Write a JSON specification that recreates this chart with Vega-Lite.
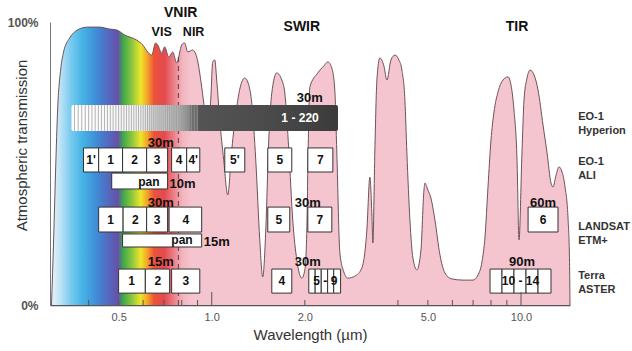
{
  "$schema": "https://vega.github.io/schema/vega-lite/v6.json",
  "width": 520,
  "height": 283,
  "autosize": {"type": "none"},
  "padding": {"left": 50, "top": 22, "right": 62, "bottom": 46},
  "background": "white",
  "config": {
    "view": {"stroke": null},
    "font": "Liberation Sans",
    "axis": {"grid": false, "labelFont": "Liberation Sans", "titleFont": "Liberation Sans"},
    "text": {"font": "Liberation Sans"}
  },
  "datasets": {
    "transmission": [
      {"wl": 0.3034, "t": 0}, {"wl": 0.3082, "t": 23}, {"wl": 0.3128, "t": 47.7}, {"wl": 0.3175, "t": 68.9},
      {"wl": 0.3246, "t": 83}, {"wl": 0.3319, "t": 89.4}, {"wl": 0.347, "t": 94.3}, {"wl": 0.3684, "t": 97.2},
      {"wl": 0.397, "t": 98.2}, {"wl": 0.434, "t": 98.2}, {"wl": 0.4676, "t": 97.5}, {"wl": 0.4928, "t": 97.2},
      {"wl": 0.523, "t": 95.4}, {"wl": 0.5721, "t": 93.6}, {"wl": 0.5979, "t": 91.9}, {"wl": 0.6208, "t": 89.4},
      {"wl": 0.6395, "t": 88.3}, {"wl": 0.6589, "t": 92.6}, {"wl": 0.6688, "t": 91.9}, {"wl": 0.6891, "t": 89},
      {"wl": 0.7046, "t": 91.2}, {"wl": 0.726, "t": 87.6}, {"wl": 0.748, "t": 89.4}, {"wl": 0.7706, "t": 85.5},
      {"wl": 0.7996, "t": 91.9}, {"wl": 0.8177, "t": 92.6}, {"wl": 0.8362, "t": 89.4}, {"wl": 0.8679, "t": 90.1},
      {"wl": 0.8943, "t": 87.6}, {"wl": 0.9283, "t": 77}, {"wl": 0.9491, "t": 68.9}, {"wl": 0.9707, "t": 63.6},
      {"wl": 0.9926, "t": 72.4}, {"wl": 1.0075, "t": 85.9}, {"wl": 1.0226, "t": 86.6}, {"wl": 1.038, "t": 79.5},
      {"wl": 1.0614, "t": 65.4}, {"wl": 1.0935, "t": 51.2}, {"wl": 1.1266, "t": 38.9}, {"wl": 1.1607, "t": 54.8},
      {"wl": 1.2049, "t": 70}, {"wl": 1.2414, "t": 77.7}, {"wl": 1.279, "t": 80.2}, {"wl": 1.3177, "t": 77.7},
      {"wl": 1.3474, "t": 71.4}, {"wl": 1.388, "t": 51.2}, {"wl": 1.43, "t": 23}, {"wl": 1.462, "t": 9.9},
      {"wl": 1.4955, "t": 26.5}, {"wl": 1.529, "t": 58.3}, {"wl": 1.564, "t": 74.9}, {"wl": 1.623, "t": 82},
      {"wl": 1.685, "t": 79.5}, {"wl": 1.723, "t": 74.9}, {"wl": 1.775, "t": 54.8}, {"wl": 1.828, "t": 30},
      {"wl": 1.884, "t": 15.9}, {"wl": 1.956, "t": 9.5}, {"wl": 2.0, "t": 12.4}, {"wl": 2.03, "t": 26.5},
      {"wl": 2.05, "t": 55}, {"wl": 2.076, "t": 77}, {"wl": 2.203, "t": 82}, {"wl": 2.305, "t": 84.5},
      {"wl": 2.374, "t": 85.9}, {"wl": 2.445, "t": 83.7}, {"wl": 2.5, "t": 76}, {"wl": 2.538, "t": 53.7},
      {"wl": 2.596, "t": 18.4}, {"wl": 2.674, "t": 11.7}, {"wl": 2.754, "t": 9.5}, {"wl": 2.903, "t": 10.2},
      {"wl": 3.058, "t": 13.1}, {"wl": 3.174, "t": 26.5}, {"wl": 3.246, "t": 45.2}, {"wl": 3.295, "t": 31.8},
      {"wl": 3.319, "t": 21.9}, {"wl": 3.369, "t": 54.8}, {"wl": 3.42, "t": 79.5}, {"wl": 3.497, "t": 87.3},
      {"wl": 3.603, "t": 84.5}, {"wl": 3.685, "t": 79.5}, {"wl": 3.797, "t": 86.6}, {"wl": 3.911, "t": 88.3},
      {"wl": 4.029, "t": 86.6}, {"wl": 4.12, "t": 83}, {"wl": 4.213, "t": 72.4}, {"wl": 4.276, "t": 53.7},
      {"wl": 4.373, "t": 30}, {"wl": 4.472, "t": 16.6}, {"wl": 4.607, "t": 12.4}, {"wl": 4.747, "t": 19.4},
      {"wl": 4.855, "t": 40.6}, {"wl": 4.891, "t": 43.1}, {"wl": 5.0, "t": 40.6}, {"wl": 5.113, "t": 37.8},
      {"wl": 5.268, "t": 30}, {"wl": 5.469, "t": 17.7}, {"wl": 5.676, "t": 11.3}, {"wl": 5.98, "t": 9.2},
      {"wl": 6.492, "t": 8.8}, {"wl": 6.993, "t": 8.8}, {"wl": 7.258, "t": 10.6}, {"wl": 7.478, "t": 15.2},
      {"wl": 7.647, "t": 24}, {"wl": 7.82, "t": 41.7}, {"wl": 7.997, "t": 58.3}, {"wl": 8.178, "t": 68.2},
      {"wl": 8.426, "t": 75.3}, {"wl": 8.745, "t": 79.5}, {"wl": 9.077, "t": 80.6}, {"wl": 9.282, "t": 77.7},
      {"wl": 9.49, "t": 68.9}, {"wl": 9.707, "t": 51.2}, {"wl": 9.852, "t": 23}, {"wl": 10.07, "t": 53.7},
      {"wl": 10.226, "t": 72.4}, {"wl": 10.457, "t": 80.2}, {"wl": 10.693, "t": 83}, {"wl": 11.016, "t": 81.3},
      {"wl": 11.35, "t": 76}, {"wl": 11.78, "t": 63.6}, {"wl": 12.14, "t": 53.7}, {"wl": 12.5, "t": 43.1},
      {"wl": 12.69, "t": 41.7}, {"wl": 12.98, "t": 45.9}, {"wl": 13.27, "t": 48.8}, {"wl": 13.57, "t": 47},
      {"wl": 13.88, "t": 41.7}, {"wl": 14.2, "t": 30}, {"wl": 14.35, "t": 15}, {"wl": 14.4, "t": 0}
    ],
    "vis_nir_boundary": [{"wl": 0.78}],
    "hyperion": [{"sensor": "Hyperion", "start": 0.352, "end": 2.56, "bands": "1 - 220", "label_wl": 1.93}],
    "hyperion_channels": [
      {"wl": 0.36}, {"wl": 0.37}, {"wl": 0.38}, {"wl": 0.39}, {"wl": 0.40}, {"wl": 0.41}, {"wl": 0.42}, {"wl": 0.43},
      {"wl": 0.44}, {"wl": 0.45}, {"wl": 0.46}, {"wl": 0.47}, {"wl": 0.48}, {"wl": 0.49}, {"wl": 0.50}, {"wl": 0.51},
      {"wl": 0.52}, {"wl": 0.53}, {"wl": 0.54}, {"wl": 0.55}, {"wl": 0.56}, {"wl": 0.57}, {"wl": 0.58}, {"wl": 0.59},
      {"wl": 0.60}, {"wl": 0.61}, {"wl": 0.62}, {"wl": 0.63}, {"wl": 0.64}, {"wl": 0.65}, {"wl": 0.66}, {"wl": 0.67},
      {"wl": 0.68}, {"wl": 0.69}, {"wl": 0.70}, {"wl": 0.71}, {"wl": 0.72}, {"wl": 0.73}, {"wl": 0.74}, {"wl": 0.75},
      {"wl": 0.76}, {"wl": 0.77}, {"wl": 0.78}, {"wl": 0.79}, {"wl": 0.80}, {"wl": 0.81}, {"wl": 0.82}, {"wl": 0.83},
      {"wl": 0.84}, {"wl": 0.85}, {"wl": 0.86}, {"wl": 0.87}, {"wl": 0.88}, {"wl": 0.89}, {"wl": 0.90}
    ],
    "bands": [
      {"sensor": "ALI", "band": "1'", "start": 0.385, "end": 0.431, "center": 0.407},
      {"sensor": "ALI", "band": "1", "start": 0.431, "end": 0.515, "center": 0.471},
      {"sensor": "ALI", "band": "2", "start": 0.515, "end": 0.616, "center": 0.563},
      {"sensor": "ALI", "band": "3", "start": 0.616, "end": 0.72, "center": 0.666},
      {"sensor": "ALI", "band": "4", "start": 0.742, "end": 0.83, "center": 0.785},
      {"sensor": "ALI", "band": "4'", "start": 0.83, "end": 0.915, "center": 0.871},
      {"sensor": "ALI", "band": "5'", "start": 1.102, "end": 1.279, "center": 1.187},
      {"sensor": "ALI", "band": "5", "start": 1.518, "end": 1.815, "center": 1.66},
      {"sensor": "ALI", "band": "7", "start": 2.045, "end": 2.464, "center": 2.245},
      {"sensor": "ALI pan", "band": "pan", "start": 0.475, "end": 0.72, "res": "10m"},
      {"sensor": "ETM+", "band": "1", "start": 0.431, "end": 0.517, "center": 0.471},
      {"sensor": "ETM+", "band": "2", "start": 0.517, "end": 0.616, "center": 0.566},
      {"sensor": "ETM+", "band": "3", "start": 0.616, "end": 0.72, "center": 0.666},
      {"sensor": "ETM+", "band": "4", "start": 0.728, "end": 0.928, "center": 0.824},
      {"sensor": "ETM+", "band": "5", "start": 1.518, "end": 1.788, "center": 1.647},
      {"sensor": "ETM+", "band": "7", "start": 2.045, "end": 2.445, "center": 2.236},
      {"sensor": "ETM+", "band": "6", "start": 10.54, "end": 13.17, "center": 11.78},
      {"sensor": "ETM+ pan", "band": "pan", "start": 0.515, "end": 0.928, "res": "15m"},
      {"sensor": "ASTER", "band": "1", "start": 0.5, "end": 0.61, "center": 0.551},
      {"sensor": "ASTER", "band": "2", "start": 0.61, "end": 0.731, "center": 0.669},
      {"sensor": "ASTER", "band": "3", "start": 0.742, "end": 0.915, "center": 0.824},
      {"sensor": "ASTER", "band": "4", "start": 1.564, "end": 1.815, "center": 1.685},
      {"sensor": "ASTER", "band": "5", "start": 2.06, "end": 2.16},
      {"sensor": "ASTER", "band": "6", "start": 2.16, "end": 2.26},
      {"sensor": "ASTER", "band": "7", "start": 2.26, "end": 2.37},
      {"sensor": "ASTER", "band": "8", "start": 2.37, "end": 2.48},
      {"sensor": "ASTER", "band": "9", "start": 2.48, "end": 2.61},
      {"sensor": "ASTER", "band": "5 - 9", "center": 2.33},
      {"sensor": "ASTER", "band": "10", "start": 7.94, "end": 8.68},
      {"sensor": "ASTER", "band": "11", "start": 8.68, "end": 9.49},
      {"sensor": "ASTER", "band": "12", "start": 9.49, "end": 10.38},
      {"sensor": "ASTER", "band": "13", "start": 10.38, "end": 11.35},
      {"sensor": "ASTER", "band": "14", "start": 11.35, "end": 12.5},
      {"sensor": "ASTER", "band": "10 - 14", "center": 9.96}
    ],
    "resolution": [
      {"sensor": "Hyperion", "res": "30m", "wl": 2.076},
      {"sensor": "ALI", "res": "30m", "wl": 0.684},
      {"sensor": "ETM+", "res": "30m", "wl": 0.684},
      {"sensor": "ETM+", "res": "30m", "wl": 2.045},
      {"sensor": "ETM+", "res": "60m", "wl": 11.78},
      {"sensor": "ASTER", "res": "15m", "wl": 0.684},
      {"sensor": "ASTER", "res": "30m", "wl": 2.045},
      {"sensor": "ASTER", "res": "90m", "wl": 10.07}
    ],
    "regions": [
      {"name": "VNIR", "wl": 0.794, "tier": "top"},
      {"name": "VIS", "wl": 0.689, "tier": "sub"},
      {"name": "NIR", "wl": 0.874, "tier": "sub"},
      {"name": "SWIR", "wl": 1.956, "tier": "main"},
      {"name": "TIR", "wl": 9.71, "tier": "main"}
    ],
    "sensors": [
      {"sensor": "Hyperion", "name": "EO-1\nHyperion"},
      {"sensor": "ALI", "name": "EO-1\nALI"},
      {"sensor": "ETM+", "name": "LANDSAT\nETM+"},
      {"sensor": "ASTER", "name": "Terra\nASTER"}
    ],
    "ticks": [
      {"wl": 0.4, "kind": "minor"}, {"wl": 0.5, "kind": "minor"}, {"wl": 0.6, "kind": "minor"},
      {"wl": 0.7, "kind": "minor"}, {"wl": 0.8, "kind": "minor"}, {"wl": 0.9, "kind": "minor"},
      {"wl": 1, "kind": "major"}, {"wl": 2, "kind": "minor"}, {"wl": 4, "kind": "minor"},
      {"wl": 5, "kind": "minor"}, {"wl": 6, "kind": "minor"}, {"wl": 7, "kind": "minor"},
      {"wl": 8, "kind": "minor"}, {"wl": 9, "kind": "minor"}, {"wl": 10, "kind": "major"}
    ]
  },
  "layer": [
    {
      "data": {"name": "transmission"},
      "mark": {
        "type": "area",
        "interpolate": "monotone",
        "fill": {
          "gradient": "linear", "x1": 0, "y1": 0, "x2": 1, "y2": 0,
          "stops": [
            {"offset": 0, "color": "#e6f4fb"},
            {"offset": 0.015, "color": "#c4e6f6"},
            {"offset": 0.035, "color": "#7fcdf0"},
            {"offset": 0.06, "color": "#45b3e6"},
            {"offset": 0.085, "color": "#3f8fd8"},
            {"offset": 0.105, "color": "#4f6fc4"},
            {"offset": 0.128, "color": "#6550a8"},
            {"offset": 0.138, "color": "#3da84a"},
            {"offset": 0.155, "color": "#8dc63f"},
            {"offset": 0.172, "color": "#ede62a"},
            {"offset": 0.185, "color": "#f5a22a"},
            {"offset": 0.198, "color": "#ec5238"},
            {"offset": 0.218, "color": "#e44a4f"},
            {"offset": 0.236, "color": "#ec8088"},
            {"offset": 0.252, "color": "#f2b4bf"},
            {"offset": 0.27, "color": "#f5c5cf"},
            {"offset": 1, "color": "#f5c5cf"}
          ]
        }
      },
      "encoding": {
        "x": {
          "field": "wl", "type": "quantitative",
          "scale": {"type": "log", "domain": [0.3, 14.4], "nice": false},
          "axis": {
            "values": [0.5, 1, 2, 5, 10], "format": ".1f", "ticks": false, "tickSize": 0,
            "labelPadding": 6, "labelFontSize": 11, "labelColor": "#555", "labelFlush": false,
            "domainColor": "#555", "domainWidth": 1.5,
            "title": "Wavelength (µm)", "titleFontSize": 15, "titleFontWeight": "normal",
            "titleColor": "#333", "titlePadding": 5
          }
        },
        "y": {
          "field": "t", "type": "quantitative",
          "scale": {"domain": [0, 100], "nice": false},
          "axis": {
            "values": [0, 100], "labelExpr": "datum.value + '%'", "ticks": false, "tickSize": 0,
            "labelPadding": 12, "labelFontSize": 12, "labelFontWeight": "bold", "labelColor": "#555",
            "labelFlush": false, "domainColor": "#777",
            "title": "Atmospheric transmission", "titleFontSize": 15, "titleFontWeight": "normal",
            "titleColor": "#333", "titleX": -29, "titleY": 123, "titleAngle": -90,
            "titleBaseline": "middle", "titleAlign": "center"
          }
        }
      }
    },
    {
      "data": {"name": "transmission"},
      "mark": {"type": "line", "interpolate": "monotone", "color": "#6e5258", "strokeWidth": 1},
      "encoding": {
        "x": {"field": "wl", "type": "quantitative", "scale": {"type": "log"}},
        "y": {"field": "t", "type": "quantitative"}
      }
    },
    {
      "data": {"name": "vis_nir_boundary"},
      "mark": {"type": "rule", "color": "#5b3a3a", "strokeWidth": 1, "strokeDash": [5, 4]},
      "encoding": {
        "x": {"field": "wl", "type": "quantitative", "scale": {"type": "log"}},
        "y": {"datum": 0, "type": "quantitative"},
        "y2": {"datum": 88}
      }
    },
    {
      "data": {"name": "hyperion"},
      "mark": {
        "type": "rect", "cornerRadius": 2,
        "fill": {
          "gradient": "linear", "x1": 0, "y1": 0, "x2": 1, "y2": 0,
          "stops": [
            {"offset": 0, "color": "#ffffff"},
            {"offset": 0.26, "color": "#f5f5f5"},
            {"offset": 0.3, "color": "#d9d9d9"},
            {"offset": 0.4, "color": "#b5b5b5"},
            {"offset": 0.435, "color": "#8a8a8a"},
            {"offset": 0.455, "color": "#555555"},
            {"offset": 0.75, "color": "#4a4a4a"},
            {"offset": 1, "color": "#3b3b3b"}
          ]
        }
      },
      "encoding": {
        "x": {"field": "start", "type": "quantitative", "scale": {"type": "log"}},
        "x2": {"field": "end"},
        "y": {"datum": 70.7, "type": "quantitative"},
        "y2": {"datum": 61.5}
      }
    },
    {
      "data": {"name": "hyperion_channels"},
      "mark": {"type": "rule", "color": "#999999", "strokeWidth": 1, "opacity": 0.75},
      "encoding": {
        "x": {"field": "wl", "type": "quantitative", "scale": {"type": "log"}},
        "y": {"datum": 70.7, "type": "quantitative"},
        "y2": {"datum": 61.5}
      }
    },
    {
      "data": {"name": "hyperion"},
      "mark": {"type": "text", "fontSize": 12, "fontWeight": "bold", "color": "#ffffff", "baseline": "middle"},
      "encoding": {
        "x": {"field": "label_wl", "type": "quantitative", "scale": {"type": "log"}},
        "y": {"datum": 66.1, "type": "quantitative"},
        "text": {"field": "bands"}
      }
    },
    {
      "data": {"name": "bands"},
      "transform": [{"filter": "datum.sensor === 'ALI' && isValid(datum.start)"}],
      "mark": {"type": "rect", "fill": "#ffffff", "stroke": "#333333", "strokeWidth": 1},
      "encoding": {
        "x": {"field": "start", "type": "quantitative", "scale": {"type": "log"}},
        "x2": {"field": "end"},
        "y": {"datum": 55.5, "type": "quantitative"},
        "y2": {"datum": 47}
      }
    },
    {
      "data": {"name": "bands"},
      "transform": [{"filter": "datum.sensor === 'ALI pan'"}],
      "mark": {"type": "rect", "fill": "#ffffff", "stroke": "#333333", "strokeWidth": 1},
      "encoding": {
        "x": {"field": "start", "type": "quantitative", "scale": {"type": "log"}},
        "x2": {"field": "end"},
        "y": {"datum": 46.6, "type": "quantitative"},
        "y2": {"datum": 41}
      }
    },
    {
      "data": {"name": "bands"},
      "transform": [{"filter": "datum.sensor === 'ETM+' && isValid(datum.start)"}],
      "mark": {"type": "rect", "fill": "#ffffff", "stroke": "#333333", "strokeWidth": 1},
      "encoding": {
        "x": {"field": "start", "type": "quantitative", "scale": {"type": "log"}},
        "x2": {"field": "end"},
        "y": {"datum": 34.6, "type": "quantitative"},
        "y2": {"datum": 25.8}
      }
    },
    {
      "data": {"name": "bands"},
      "transform": [{"filter": "datum.sensor === 'ETM+ pan'"}],
      "mark": {"type": "rect", "fill": "#ffffff", "stroke": "#333333", "strokeWidth": 1},
      "encoding": {
        "x": {"field": "start", "type": "quantitative", "scale": {"type": "log"}},
        "x2": {"field": "end"},
        "y": {"datum": 25.1, "type": "quantitative"},
        "y2": {"datum": 20.5}
      }
    },
    {
      "data": {"name": "bands"},
      "transform": [{"filter": "datum.sensor === 'ASTER' && isValid(datum.start)"}],
      "mark": {"type": "rect", "fill": "#ffffff", "stroke": "#333333", "strokeWidth": 1},
      "encoding": {
        "x": {"field": "start", "type": "quantitative", "scale": {"type": "log"}},
        "x2": {"field": "end"},
        "y": {"datum": 12.7, "type": "quantitative"},
        "y2": {"datum": 4.2}
      }
    },
    {
      "data": {"name": "bands"},
      "transform": [{"filter": "datum.sensor === 'ALI' && isValid(datum.center)"}],
      "mark": {"type": "text", "fontSize": 12, "fontWeight": "bold", "color": "#111111", "baseline": "middle"},
      "encoding": {
        "x": {"field": "center", "type": "quantitative", "scale": {"type": "log"}},
        "y": {"datum": 51.2, "type": "quantitative"},
        "text": {"field": "band"}
      }
    },
    {
      "data": {"name": "bands"},
      "transform": [{"filter": "datum.sensor === 'ETM+' && isValid(datum.center)"}],
      "mark": {"type": "text", "fontSize": 12, "fontWeight": "bold", "color": "#111111", "baseline": "middle"},
      "encoding": {
        "x": {"field": "center", "type": "quantitative", "scale": {"type": "log"}},
        "y": {"datum": 30.2, "type": "quantitative"},
        "text": {"field": "band"}
      }
    },
    {
      "data": {"name": "bands"},
      "transform": [{"filter": "datum.sensor === 'ASTER' && isValid(datum.center)"}],
      "mark": {"type": "text", "fontSize": 12, "fontWeight": "bold", "color": "#111111", "baseline": "middle"},
      "encoding": {
        "x": {"field": "center", "type": "quantitative", "scale": {"type": "log"}},
        "y": {"datum": 8.5, "type": "quantitative"},
        "text": {"field": "band"}
      }
    },
    {
      "data": {"name": "bands"},
      "transform": [{"filter": "datum.sensor === 'ALI pan'"}],
      "mark": {"type": "text", "fontSize": 12, "fontWeight": "bold", "color": "#111111", "baseline": "middle", "align": "right", "dx": -8},
      "encoding": {
        "x": {"field": "end", "type": "quantitative", "scale": {"type": "log"}},
        "y": {"datum": 43.5, "type": "quantitative"},
        "text": {"field": "band"}
      }
    },
    {
      "data": {"name": "bands"},
      "transform": [{"filter": "datum.sensor === 'ALI pan'"}],
      "mark": {"type": "text", "fontSize": 13, "fontWeight": "bold", "color": "#111111", "baseline": "middle", "align": "left", "dx": 2},
      "encoding": {
        "x": {"field": "end", "type": "quantitative", "scale": {"type": "log"}},
        "y": {"datum": 42.6, "type": "quantitative"},
        "text": {"field": "res"}
      }
    },
    {
      "data": {"name": "bands"},
      "transform": [{"filter": "datum.sensor === 'ETM+ pan'"}],
      "mark": {"type": "text", "fontSize": 12, "fontWeight": "bold", "color": "#111111", "baseline": "middle", "align": "right", "dx": -9},
      "encoding": {
        "x": {"field": "end", "type": "quantitative", "scale": {"type": "log"}},
        "y": {"datum": 23, "type": "quantitative"},
        "text": {"field": "band"}
      }
    },
    {
      "data": {"name": "bands"},
      "transform": [{"filter": "datum.sensor === 'ETM+ pan'"}],
      "mark": {"type": "text", "fontSize": 13, "fontWeight": "bold", "color": "#111111", "baseline": "middle", "align": "left", "dx": 2},
      "encoding": {
        "x": {"field": "end", "type": "quantitative", "scale": {"type": "log"}},
        "y": {"datum": 22.4, "type": "quantitative"},
        "text": {"field": "res"}
      }
    },
    {
      "data": {"name": "resolution"},
      "transform": [{"filter": "datum.sensor === 'Hyperion'"}],
      "mark": {"type": "text", "fontSize": 13, "fontWeight": "bold", "color": "#111111", "baseline": "alphabetic"},
      "encoding": {
        "x": {"field": "wl", "type": "quantitative", "scale": {"type": "log"}},
        "y": {"datum": 71.8, "type": "quantitative"},
        "text": {"field": "res"}
      }
    },
    {
      "data": {"name": "resolution"},
      "transform": [{"filter": "datum.sensor === 'ALI'"}],
      "mark": {"type": "text", "fontSize": 13, "fontWeight": "bold", "color": "#111111", "baseline": "alphabetic"},
      "encoding": {
        "x": {"field": "wl", "type": "quantitative", "scale": {"type": "log"}},
        "y": {"datum": 55.9, "type": "quantitative"},
        "text": {"field": "res"}
      }
    },
    {
      "data": {"name": "resolution"},
      "transform": [{"filter": "datum.sensor === 'ETM+'"}],
      "mark": {"type": "text", "fontSize": 13, "fontWeight": "bold", "color": "#111111", "baseline": "alphabetic"},
      "encoding": {
        "x": {"field": "wl", "type": "quantitative", "scale": {"type": "log"}},
        "y": {"datum": 34.8, "type": "quantitative"},
        "text": {"field": "res"}
      }
    },
    {
      "data": {"name": "resolution"},
      "transform": [{"filter": "datum.sensor === 'ASTER'"}],
      "mark": {"type": "text", "fontSize": 13, "fontWeight": "bold", "color": "#111111", "baseline": "alphabetic"},
      "encoding": {
        "x": {"field": "wl", "type": "quantitative", "scale": {"type": "log"}},
        "y": {"datum": 13.8, "type": "quantitative"},
        "text": {"field": "res"}
      }
    },
    {
      "data": {"name": "regions"},
      "transform": [{"filter": "datum.tier === 'top'"}],
      "mark": {"type": "text", "fontSize": 14, "fontWeight": "bold", "color": "#111111", "baseline": "middle"},
      "encoding": {
        "x": {"field": "wl", "type": "quantitative", "scale": {"type": "log"}},
        "y": {"datum": 103.2, "type": "quantitative"},
        "text": {"field": "name"}
      }
    },
    {
      "data": {"name": "regions"},
      "transform": [{"filter": "datum.tier === 'sub'"}],
      "mark": {"type": "text", "fontSize": 12.5, "fontWeight": "bold", "color": "#111111", "baseline": "middle"},
      "encoding": {
        "x": {"field": "wl", "type": "quantitative", "scale": {"type": "log"}},
        "y": {"datum": 96.5, "type": "quantitative"},
        "text": {"field": "name"}
      }
    },
    {
      "data": {"name": "regions"},
      "transform": [{"filter": "datum.tier === 'main'"}],
      "mark": {"type": "text", "fontSize": 14, "fontWeight": "bold", "color": "#111111", "baseline": "middle"},
      "encoding": {
        "x": {"field": "wl", "type": "quantitative", "scale": {"type": "log"}},
        "y": {"datum": 98.2, "type": "quantitative"},
        "text": {"field": "name"}
      }
    },
    {
      "data": {"name": "sensors"},
      "transform": [{"filter": "datum.sensor === 'Hyperion'"}],
      "mark": {"type": "text", "fontSize": 11, "fontWeight": "bold", "color": "#333333", "baseline": "middle", "align": "left", "lineBreak": "\n", "lineHeight": 14},
      "encoding": {
        "x": {"datum": 15.3, "type": "quantitative", "scale": {"type": "log"}},
        "y": {"datum": 66.3, "type": "quantitative"},
        "text": {"field": "name"}
      }
    },
    {
      "data": {"name": "sensors"},
      "transform": [{"filter": "datum.sensor === 'ALI'"}],
      "mark": {"type": "text", "fontSize": 11, "fontWeight": "bold", "color": "#333333", "baseline": "middle", "align": "left", "lineBreak": "\n", "lineHeight": 14},
      "encoding": {
        "x": {"datum": 15.3, "type": "quantitative", "scale": {"type": "log"}},
        "y": {"datum": 50.7, "type": "quantitative"},
        "text": {"field": "name"}
      }
    },
    {
      "data": {"name": "sensors"},
      "transform": [{"filter": "datum.sensor === 'ETM+'"}],
      "mark": {"type": "text", "fontSize": 11, "fontWeight": "bold", "color": "#333333", "baseline": "middle", "align": "left", "lineBreak": "\n", "lineHeight": 14},
      "encoding": {
        "x": {"datum": 15.3, "type": "quantitative", "scale": {"type": "log"}},
        "y": {"datum": 27.7, "type": "quantitative"},
        "text": {"field": "name"}
      }
    },
    {
      "data": {"name": "sensors"},
      "transform": [{"filter": "datum.sensor === 'ASTER'"}],
      "mark": {"type": "text", "fontSize": 11, "fontWeight": "bold", "color": "#333333", "baseline": "middle", "align": "left", "lineBreak": "\n", "lineHeight": 14},
      "encoding": {
        "x": {"datum": 15.3, "type": "quantitative", "scale": {"type": "log"}},
        "y": {"datum": 10.2, "type": "quantitative"},
        "text": {"field": "name"}
      }
    },
    {
      "data": {"name": "ticks"},
      "transform": [{"filter": "datum.kind === 'minor'"}],
      "mark": {"type": "rule", "color": "#555555", "strokeWidth": 1},
      "encoding": {
        "x": {"field": "wl", "type": "quantitative", "scale": {"type": "log"}},
        "y": {"datum": 0, "type": "quantitative"},
        "y2": {"datum": 1.8}
      }
    },
    {
      "data": {"name": "ticks"},
      "transform": [{"filter": "datum.kind === 'major'"}],
      "mark": {"type": "rule", "color": "#555555", "strokeWidth": 1},
      "encoding": {
        "x": {"field": "wl", "type": "quantitative", "scale": {"type": "log"}},
        "y": {"datum": 0, "type": "quantitative"},
        "y2": {"datum": 4.6}
      }
    }
  ]
}
